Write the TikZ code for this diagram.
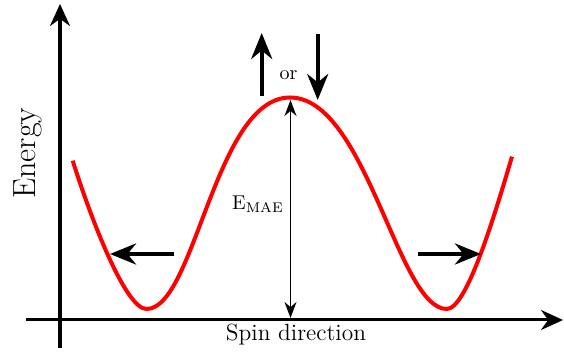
\documentclass[tikz,border=0pt]{standalone}
\usepackage{amsmath}
\usetikzlibrary{arrows.meta,positioning}

\begin{document}
\begin{tikzpicture}[x=0.5pt,y=-0.5pt,
    axis/.style={line width=1.5pt,-{Stealth[length=11pt,width=10pt]}},
    spin/.style={line width=2pt,-{Stealth[length=13pt,width=10.5pt]}},
    gap/.style={line width=0.8pt,{Stealth[length=8pt,width=6pt]}-{Stealth[length=8pt,width=6pt]}},
    curve/.style={red,line width=2pt}]
  \useasboundingbox (0,0) rectangle (564,352);
  % axes
  \coordinate (ybot) at (60,348);
  \coordinate (ytop) at (60,4);
  \coordinate (xleft) at (26,320);
  \coordinate (xright) at (563,320);
  \draw[axis] (ybot) -- (ytop);
  \draw[axis] (xleft) -- (xright);
  \node[font=\fontsize{16}{19}\selectfont,rotate=90] (energy) at (28,153) {Energy};
  \node[font=\fontsize{11.7}{14}\selectfont] (spindir) at (296,335) {Spin direction};
  % energy landscape
  \coordinate (wstart) at (72.7,160.7);
  \coordinate (lmin) at (146.5,309);
  \coordinate (top) at (290,97.5);
  \coordinate (rmin) at (446.7,309);
  \coordinate (wend) at (512,156.7);
  \draw[curve] (wstart) .. controls (92,222) and (126,309) .. (lmin)
    .. controls (195,309) and (215,97.5) .. (top)
    .. controls (366,97.5) and (398,309) .. (rmin)
    .. controls (466,309) and (492,224) .. (wend);
  % barrier height
  \coordinate (peak) at (290.5,100);
  \coordinate (base) at (290.5,318);
  \draw[gap] (peak) -- (base);
  \node[font=\fontsize{10}{12}\selectfont] (emae) at (258,204) {$\mathrm{E}_{\mathrm{MAE}}$};
  % spins
  \coordinate (upfoot) at (261.7,96);
  \coordinate (uphead) at (261.7,33);
  \coordinate (downfoot) at (317.7,34);
  \coordinate (downhead) at (317.7,100);
  \draw[spin] (upfoot) -- (uphead);
  \draw[spin] (downfoot) -- (downhead);
  \node[font=\fontsize{10}{12}\selectfont] (or) at (288.5,75) {or};
  \coordinate (lfoot) at (173.5,254);
  \coordinate (lhead) at (110,254);
  \coordinate (rfoot) at (418,254);
  \coordinate (rhead) at (481,254);
  \draw[spin] (lfoot) -- (lhead);
  \draw[spin] (rfoot) -- (rhead);
\end{tikzpicture}
\end{document}
